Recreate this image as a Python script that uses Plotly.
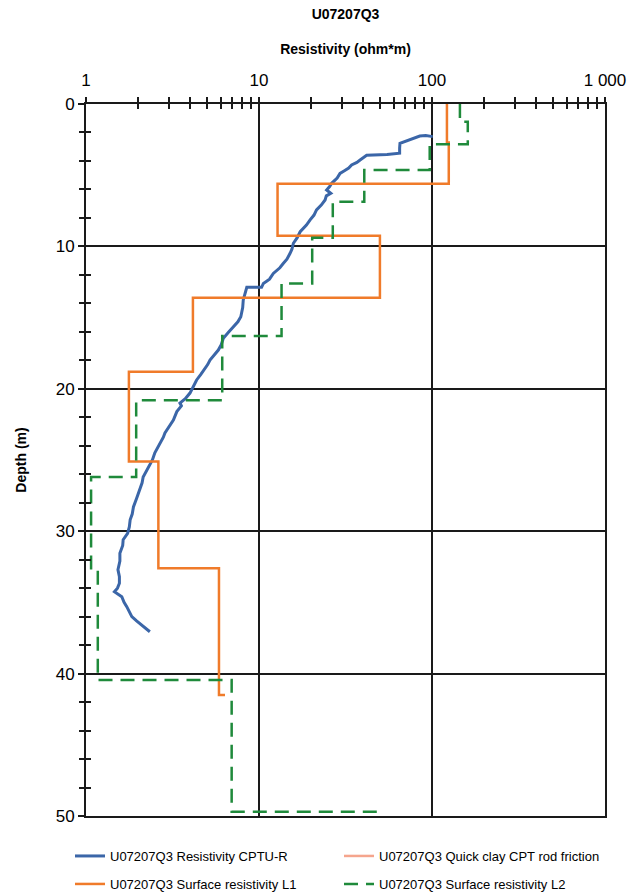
import plotly.graph_objects as go

# ---------------- data ----------------
# CPTU-R resistivity profile (depth m, resistivity ohm*m)
cptu_depth = [2.29, 2.22, 2.25, 2.4, 2.55, 2.76, 3.1, 3.46, 3.55, 3.58, 3.6, 3.93, 4.1, 4.28, 4.5,
              4.7, 4.87, 5.2, 5.57, 5.8, 6.04, 6.27, 6.45, 6.74, 7.1, 7.44, 7.8, 8.15, 8.5, 8.97,
              9.4, 9.78, 10.2, 10.5, 10.9, 11.2, 11.5, 11.9, 12.3, 12.6, 12.87, 12.87, 13.3, 13.76,
              14.3, 14.94, 15.3, 15.64, 16.0, 16.45, 16.9, 17.28, 17.6, 17.98, 18.3, 18.68, 19.0,
              19.38, 19.8, 20.3, 20.7, 21.0, 21.2, 21.6, 22.2, 22.7, 23.1, 23.4, 23.9, 24.5, 25.0,
              25.6, 26.2, 26.6, 27.1, 27.7, 28.3, 28.8, 29.2, 29.7, 30.15, 30.6, 31.0, 31.55, 32.1,
              32.7, 33.2, 33.66, 34.0, 34.25, 34.6, 35.0, 35.3, 35.7, 36.0, 36.3, 36.6, 36.85, 37.06]
cptu_res = [101, 92, 85, 78, 72, 65.3, 65, 65, 55, 48, 41.9, 38.4, 36.8, 34.3, 33.0,
            31.0, 29.4, 28.3, 26.3, 25.6, 24.6, 26.0, 24.5, 24.1, 22.9, 21.5, 20.8, 19.7, 18.8, 17.3,
            16.6, 15.8, 15.5, 15.1, 14.5, 13.8, 13.2, 12.1, 11.5, 10.6, 10.35, 8.5, 8.3, 8.11,
            8.05, 7.85, 7.55, 7.1, 6.7, 6.22, 6.05, 5.82, 5.5, 5.21, 5.05, 4.77, 4.6,
            4.36, 4.2, 3.99, 3.75, 3.49, 3.56, 3.35, 3.2, 3.02, 2.86, 2.8, 2.66, 2.5, 2.42,
            2.28, 2.14, 2.11, 2.05, 1.96, 1.88, 1.85, 1.80, 1.78, 1.74, 1.64, 1.63, 1.57, 1.57,
            1.53, 1.56, 1.56, 1.52, 1.46, 1.61, 1.66, 1.72, 1.78, 1.84, 1.96, 2.1, 2.22, 2.34]

# Surface resistivity L1 (layer top depth, resistivity)
l1_depth = [0, 2.7, 5.6, 9.25, 13.6, 18.8, 25.1, 32.6, 41.5]
l1_res = [122, 125, 12.8, 50, 4.15, 1.77, 2.62, 5.87, 6.36]

# Surface resistivity L2 (layer top depth, resistivity)
l2_depth = [0, 1.24, 2.83, 4.63, 6.86, 9.39, 12.6, 16.3, 20.8, 26.2, 32.7, 40.45, 49.7]
l2_res = [145, 161, 97, 40.6, 26.7, 20.3, 13.5, 6.13, 1.95, 1.07, 1.17, 6.95, 52.3]

x_tickvals = [1, 10, 100, 1000]
x_ticktext = ["1", "10", "100", "1 000"]
y_tickvals = [0, 10, 20, 30, 40, 50]

x_minor = [m * d for d in (1, 10, 100) for m in range(2, 10)]
y_minor = [v for v in range(2, 50, 2) if v % 10 != 0]

FONT = "Liberation Sans, Arial, sans-serif"
BLUE = "#3b66a8"
ORANGE = "#f07b2a"
GREEN = "#1f8a3b"
SALMON = "#f5a58d"
AX = "#1a1a1a"

fig = go.Figure()
fig.add_trace(go.Scatter(x=cptu_res, y=cptu_depth, mode="lines",
                         line=dict(color=BLUE, width=3),
                         name="U07207Q3 Resistivity CPTU-R", legend="legend"))
fig.add_trace(go.Scatter(x=[None], y=[None], mode="lines",
                         line=dict(color=SALMON, width=2.5),
                         name="U07207Q3 Quick clay CPT rod friction", legend="legend"))
fig.add_trace(go.Scatter(x=l1_res, y=l1_depth, mode="lines",
                         line=dict(color=ORANGE, width=2.5, shape="vh"),
                         name="U07207Q3 Surface resistivity L1", legend="legend2"))
fig.add_trace(go.Scatter(x=l2_res, y=l2_depth, mode="lines",
                         line=dict(color=GREEN, width=2.5, shape="vh", dash="14px,8px"),
                         name="U07207Q3 Surface resistivity L2", legend="legend2"))
# helper trace for overlay axes (inward tick marks)
fig.add_trace(go.Scatter(x=[None], y=[None], xaxis="x2", yaxis="y2",
                         showlegend=False, hoverinfo="skip"))

legend_common = dict(orientation="h", xref="paper", yref="paper",
                     xanchor="left", yanchor="middle",
                     entrywidth=224, entrywidthmode="pixels",
                     font=dict(family=FONT, size=13, color="black"),
                     bgcolor="rgba(0,0,0,0)", borderwidth=0, traceorder="normal")

fig.update_layout(
    width=632, height=894,
    margin=dict(l=86, r=27, t=104, b=78, autoexpand=False),
    paper_bgcolor="white", plot_bgcolor="white",
    font=dict(family=FONT, color="black"),
    title=dict(text="<b>U07207Q3</b>", x=(86 + 605) / 2 / 632, xanchor="center",
               y=1 - 14 / 894, yanchor="middle", yref="container",
               font=dict(family=FONT, size=14, color="black")),
    xaxis=dict(type="log", range=[0, 3], side="top",
               tickmode="array", tickvals=x_tickvals, ticktext=x_ticktext,
               tickfont=dict(family=FONT, size=17, color="black"),
               ticklabelstandoff=4,
               showgrid=True, gridcolor=AX, gridwidth=1.5,
               showline=True, linecolor=AX, linewidth=2, mirror=True,
               ticks="outside", ticklen=5, tickwidth=1.5, tickcolor=AX,
               minor=dict(tickmode="array", tickvals=x_minor, ticks="outside",
                          ticklen=5, tickwidth=1.5, tickcolor=AX, showgrid=False),
               title=dict(text="<b>Resistivity (ohm*m)</b>", standoff=13,
                          font=dict(family=FONT, size=14, color="black")),
               zeroline=False, fixedrange=True),
    yaxis=dict(range=[50, 0], tickmode="array", tickvals=y_tickvals,
               tickfont=dict(family=FONT, size=17, color="black"),
               showgrid=True, gridcolor=AX, gridwidth=1.5,
               showline=True, linecolor=AX, linewidth=2, mirror=True,
               ticks="outside", ticklen=6, tickwidth=1.5, tickcolor=AX,
               minor=dict(tickmode="array", tickvals=y_minor, ticks="outside",
                          ticklen=5, tickwidth=1.5, tickcolor=AX, showgrid=False),
               title=dict(text="<b>Depth (m)</b>", standoff=26,
                          font=dict(family=FONT, size=14, color="black")),
               zeroline=False, fixedrange=True),
    xaxis2=dict(type="log", range=[0, 3], side="top", overlaying="x", anchor="y",
                tickmode="array", tickvals=x_tickvals, showticklabels=False,
                ticks="inside", ticklen=5, tickwidth=1.5, tickcolor=AX,
                minor=dict(tickmode="array", tickvals=x_minor, ticks="inside",
                           ticklen=5, tickwidth=1.5, tickcolor=AX, showgrid=False),
                showgrid=False, showline=False, zeroline=False, fixedrange=True),
    yaxis2=dict(range=[50, 0], overlaying="y", anchor="x", side="left",
                tickmode="array", tickvals=y_tickvals, showticklabels=False,
                ticks="",
                minor=dict(tickmode="array", tickvals=y_minor, ticks="inside",
                           ticklen=5, tickwidth=1.5, tickcolor=AX, showgrid=False),
                showgrid=False, showline=False, zeroline=False, fixedrange=True),
    legend=dict(legend_common, x=(70 - 86) / 519, y=-(856 - 816) / 712),
    legend2=dict(legend_common, x=(70 - 86) / 519, y=-(884 - 816) / 712),
    showlegend=True,
)

fig.write_html("out.html")
